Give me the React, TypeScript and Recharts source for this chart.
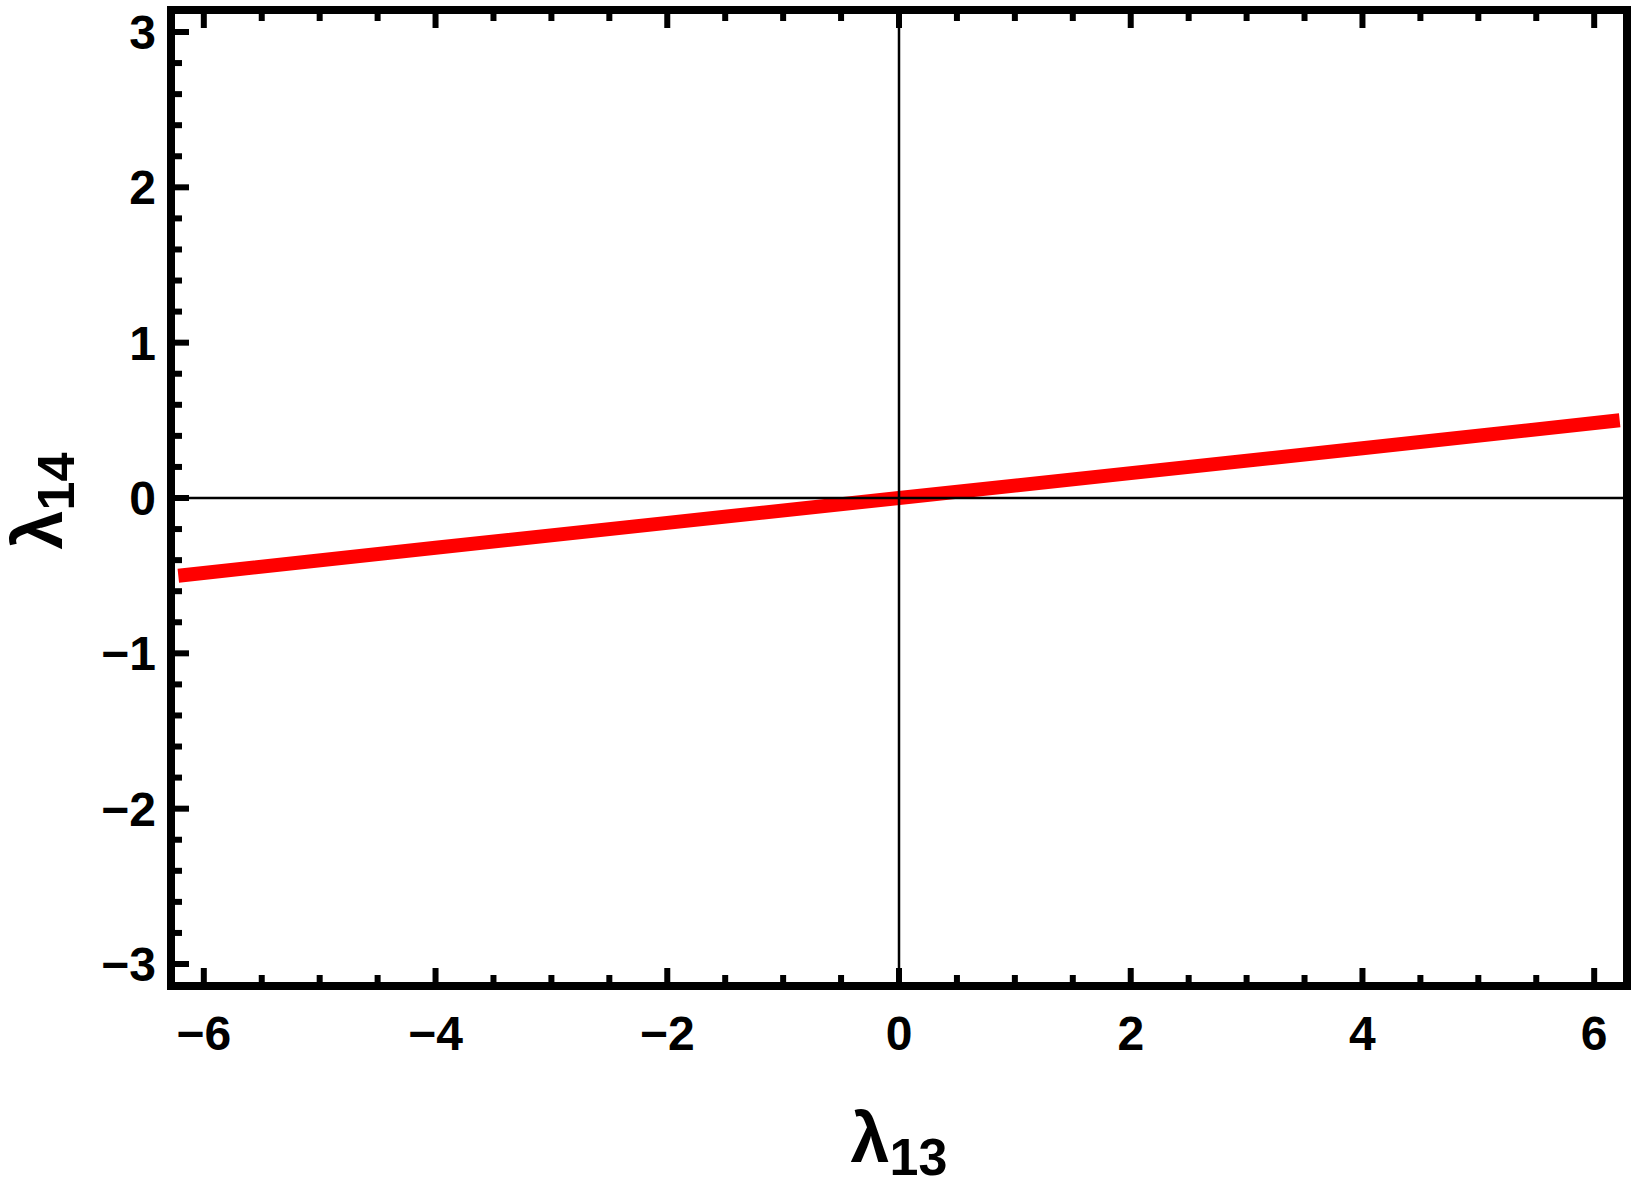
import { LineChart, Line, XAxis, YAxis, ReferenceLine } from 'recharts';

// λ13 (x) and λ14 (y) values
const lambda13 = [-6.22, -4, -2, 0, 2, 4, 6.22];
const lambda14 = [-0.5, -0.32, -0.16, 0, 0.16, 0.32, 0.5];

// all tick positions (majors get a label, minors are short marks)
const xTicks = [
  -6, -5.5, -5, -4.5, -4, -3.5, -3, -2.5, -2, -1.5, -1, -0.5, 0,
  0.5, 1, 1.5, 2, 2.5, 3, 3.5, 4, 4.5, 5, 5.5, 6,
];
const yTicks = [
  -3, -2.8, -2.6, -2.4, -2.2, -2, -1.8, -1.6, -1.4, -1.2, -1, -0.8, -0.6, -0.4, -0.2, 0,
  0.2, 0.4, 0.6, 0.8, 1, 1.2, 1.4, 1.6, 1.8, 2, 2.2, 2.4, 2.6, 2.8, 3,
];
const xMajor = [-6, -4, -2, 0, 2, 4, 6];
const yMajor = [-3, -2, -1, 0, 1, 2, 3];

const data = lambda13.map((x, i) => ({ x, y: lambda14[i] }));

const FONT = '"Liberation Sans", Arial, sans-serif';
const X_DOMAIN = [-2 * Math.PI, 2 * Math.PI];
const Y_DOMAIN = [-Math.PI, Math.PI];
const FRAME = { stroke: '#000', strokeWidth: 8, strokeLinecap: 'square' as const };

const isMajor = (list: number[], v: number) => list.some((m) => Math.abs(m - v) < 1e-6);
const fmt = (v: number) => (v < 0 ? '\u2212' + Math.abs(Math.round(v)) : String(Math.round(v)));

const BottomTick = ({ x, y, payload }: any) => {
  const major = isMajor(xMajor, payload.value);
  return (
    <g>
      <line x1={x} x2={x} y1={y} y2={y - (major ? 18 : 11)} stroke="#000" strokeWidth={6} />
      {major && (
        <text x={x} y={y + 64} textAnchor="middle" fontFamily={FONT} fontWeight="bold" fontSize={48} fill="#000">
          {fmt(payload.value)}
        </text>
      )}
    </g>
  );
};

const TopTick = ({ x, y, payload }: any) => {
  const major = isMajor(xMajor, payload.value);
  return <line x1={x} x2={x} y1={y} y2={y + (major ? 18 : 11)} stroke="#000" strokeWidth={6} />;
};

const LeftTick = ({ x, y, payload }: any) => {
  const major = isMajor(yMajor, payload.value);
  return (
    <g>
      <line x1={x} x2={x + (major ? 18 : 11)} y1={y} y2={y} stroke="#000" strokeWidth={6} />
      {major && (
        <text x={x - 15} y={y + 17} textAnchor="end" fontFamily={FONT} fontWeight="bold" fontSize={48} fill="#000">
          {fmt(payload.value)}
        </text>
      )}
    </g>
  );
};

const RightTick = ({ x, y, payload }: any) => {
  const major = isMajor(yMajor, payload.value);
  return <line x1={x} x2={x - (major ? 18 : 11)} y1={y} y2={y} stroke="#000" strokeWidth={6} />;
};

const XTitle = ({ viewBox }: any) => (
  <text x={viewBox.x + viewBox.width / 2} y={viewBox.y + 176} textAnchor="middle" fontFamily={FONT} fontWeight="bold" fontSize={70} fill="#000">
    λ<tspan fontSize={52} dy={13}>13</tspan>
  </text>
);

const YTitle = () => (
  <text x={62} y={501} transform="rotate(-90, 62, 501)" textAnchor="middle" fontFamily={FONT} fontWeight="bold" fontSize={70} fill="#000">
    λ<tspan fontSize={52} dy={12}>14</tspan>
  </text>
);

export default function App() {
  return (
    <div style={{ position: 'fixed', left: 0, top: 0, width: 1639, height: 1185, background: '#fff' }}>
      <LineChart width={1639} height={1185} data={data} margin={{ top: 0, right: 0, bottom: 0, left: 0 }}>
        <XAxis
          dataKey="x" type="number" domain={X_DOMAIN} ticks={xTicks} interval={0}
          height={199} tickSize={0} tickMargin={0} tickLine={false} axisLine={FRAME}
          tick={<BottomTick />} label={{ content: <XTitle /> }}
        />
        <XAxis
          xAxisId="top" orientation="top" dataKey="x" type="number" domain={X_DOMAIN} ticks={xTicks} interval={0}
          height={10} tickSize={0} tickMargin={0} tickLine={false} axisLine={FRAME} tick={<TopTick />}
        />
        <YAxis
          type="number" domain={Y_DOMAIN} ticks={yTicks} interval={0}
          width={171} tickSize={0} tickMargin={0} tickLine={false} axisLine={FRAME}
          tick={<LeftTick />} label={{ content: <YTitle /> }}
        />
        <YAxis
          yAxisId="right" orientation="right" type="number" domain={Y_DOMAIN} ticks={yTicks} interval={0}
          width={12} tickSize={0} tickMargin={0} tickLine={false} axisLine={FRAME} tick={<RightTick />}
        />
        <Line
          type="linear" dataKey="y" stroke="#ff0000" strokeWidth={14} dot={false}
          strokeLinecap="butt" isAnimationActive={false}
        />
        <ReferenceLine x={0} stroke="#000" strokeWidth={2.5} />
        <ReferenceLine y={0} stroke="#000" strokeWidth={2.5} />
      </LineChart>
    </div>
  );
}
